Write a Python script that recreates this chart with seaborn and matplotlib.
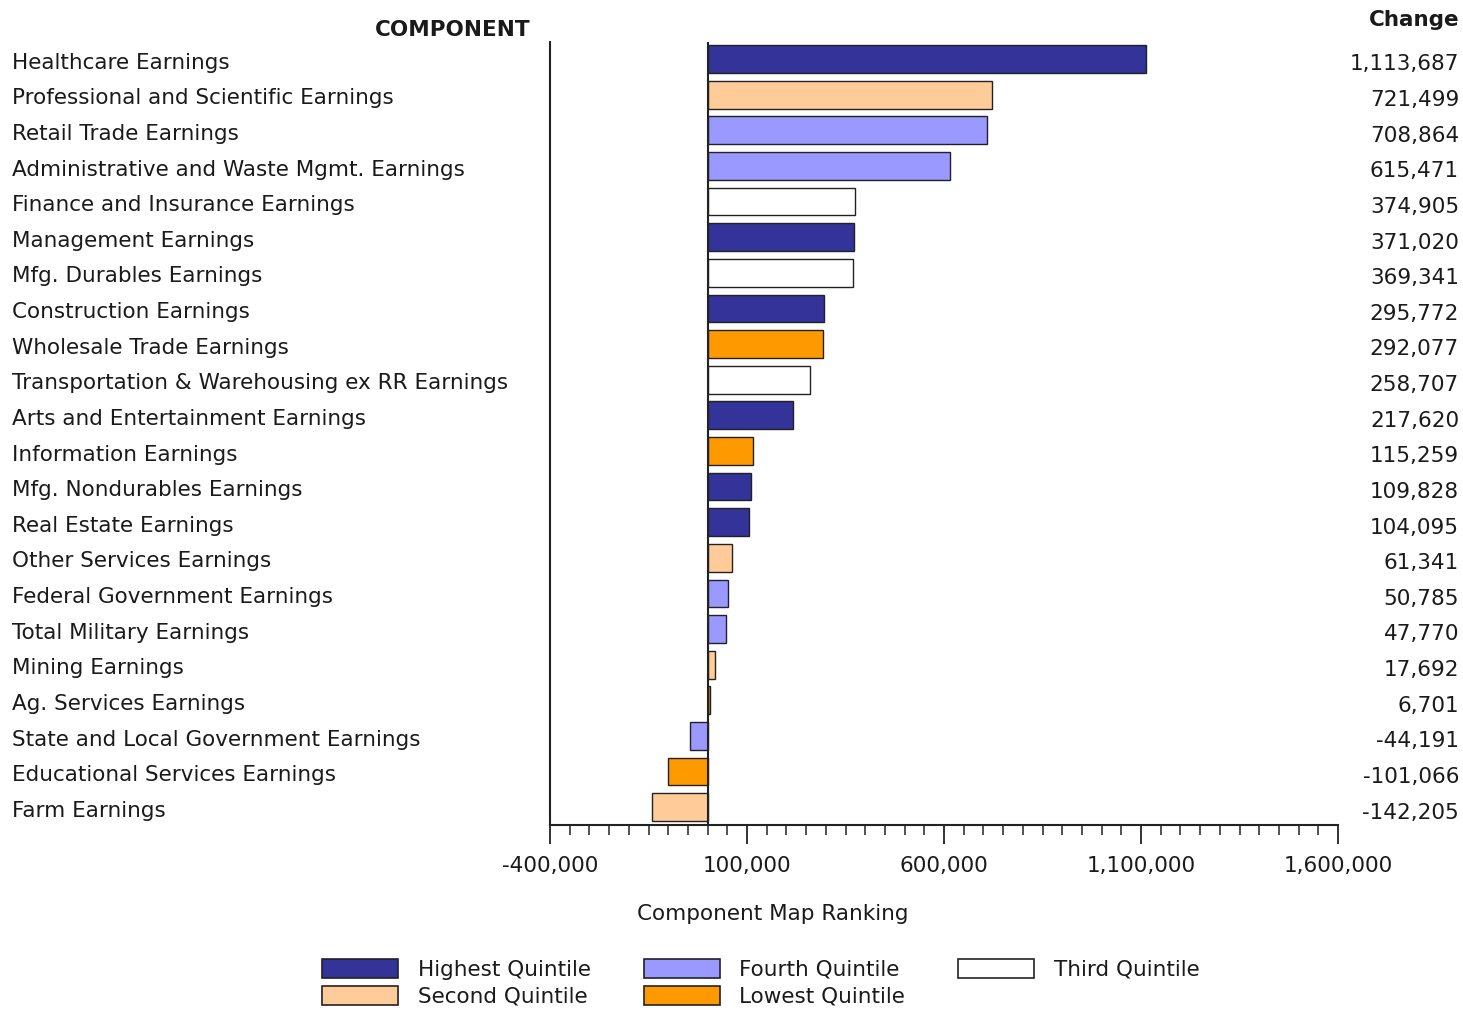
import matplotlib
matplotlib.use("Agg")
import matplotlib.pyplot as plt
import matplotlib.transforms as mtransforms
from matplotlib.patches import Patch
from matplotlib.ticker import MultipleLocator, FixedLocator, FuncFormatter
import seaborn as sns
import pandas as pd

components = [
    "Healthcare Earnings",
    "Professional and Scientific Earnings",
    "Retail Trade Earnings",
    "Administrative and Waste Mgmt. Earnings",
    "Finance and Insurance Earnings",
    "Management Earnings",
    "Mfg. Durables Earnings",
    "Construction Earnings",
    "Wholesale Trade Earnings",
    "Transportation & Warehousing ex RR Earnings",
    "Arts and Entertainment Earnings",
    "Information Earnings",
    "Mfg. Nondurables Earnings",
    "Real Estate Earnings",
    "Other Services Earnings",
    "Federal Government Earnings",
    "Total Military Earnings",
    "Mining Earnings",
    "Ag. Services Earnings",
    "State and Local Government Earnings",
    "Educational Services Earnings",
    "Farm Earnings",
]
changes = [1113687, 721499, 708864, 615471, 374905, 371020, 369341, 295772,
           292077, 258707, 217620, 115259, 109828, 104095, 61341, 50785,
           47770, 17692, 6701, -44191, -101066, -142205]
quintiles = ["Highest Quintile", "Second Quintile", "Fourth Quintile", "Fourth Quintile",
             "Third Quintile", "Highest Quintile", "Third Quintile", "Highest Quintile",
             "Lowest Quintile", "Third Quintile", "Highest Quintile", "Lowest Quintile",
             "Highest Quintile", "Highest Quintile", "Second Quintile", "Fourth Quintile",
             "Fourth Quintile", "Second Quintile", "Lowest Quintile", "Fourth Quintile",
             "Lowest Quintile", "Second Quintile"]
legend_order = ["Highest Quintile", "Second Quintile", "Fourth Quintile",
                "Lowest Quintile", "Third Quintile"]
palette = {
    "Highest Quintile": "#333399",
    "Fourth Quintile": "#9999FF",
    "Third Quintile": "#FFFFFF",
    "Second Quintile": "#FFCC99",
    "Lowest Quintile": "#FF9900",
}
x_ticks = [-400000, 100000, 600000, 1100000, 1600000]

df = pd.DataFrame({"Component": components, "Change": changes, "Quintile": quintiles})

sns.set_style("white")
plt.rcParams["font.family"] = ["DejaVu Sans"]
FS = 15.5
TXT = "#1a1a1a"

fig = plt.figure(figsize=(14.63, 10.10), dpi=100)
ax = fig.add_axes([550 / 1463, 1 - 825 / 1010, 788 / 1463, 783 / 1010])

sns.barplot(data=df, x="Change", y="Component", hue="Quintile", palette=palette,
            dodge=False, orient="h", width=0.78, edgecolor="#222222", linewidth=1.0,
            saturation=1, legend=False, ax=ax, order=components)

ax.set_xlim(x_ticks[0], x_ticks[-1])
ax.set_ylim(len(components) - 0.5, -0.48)
ax.axvline(0, color="#222222", lw=1.5, zorder=5)

for s in ["top", "right"]:
    ax.spines[s].set_visible(False)
for s in ["left", "bottom"]:
    ax.spines[s].set_color("#222222")
    ax.spines[s].set_linewidth(1.5)

ax.xaxis.set_major_locator(FixedLocator(x_ticks))
ax.xaxis.set_minor_locator(MultipleLocator(50000))
ax.xaxis.set_major_formatter(FuncFormatter(lambda v, p: f"{int(v):,}"))
ax.tick_params(axis="x", which="major", direction="out", length=14, width=1.3,
               color="#222222", labelsize=FS, labelcolor=TXT, pad=8.5, bottom=True)
ax.tick_params(axis="x", which="minor", direction="out", length=7, width=1.1,
               color="#222222", bottom=True)
ax.set_yticks([])
ax.set_ylabel("")
ax.set_xlabel("")

fig.text(773 / 1463, 1 - 914 / 1010, "Component Map Ranking", ha="center", va="center",
         fontsize=FS, color=TXT)

trans_left = mtransforms.blended_transform_factory(fig.transFigure, ax.transData)
for i, (name, val) in enumerate(zip(components, changes)):
    ax.text(12 / 1463, i + 0.1, name, transform=trans_left, ha="left", va="center",
            fontsize=FS, color=TXT, clip_on=False)
    ax.text(1459 / 1463, i + 0.15, f"{val:,}", transform=trans_left, ha="right",
            va="center", fontsize=FS, color=TXT, clip_on=False)

fig.text(453 / 1463, 1 - 30 / 1010, "COMPONENT", ha="center", va="center",
         fontsize=FS, fontweight="bold", color=TXT)
fig.text(1459 / 1463, 1 - 20 / 1010, "Change", ha="right", va="center",
         fontsize=FS, fontweight="bold", color=TXT)

handles = [Patch(facecolor=palette[q], edgecolor="#222222", linewidth=1.2, label=q)
           for q in legend_order]
fig.legend(handles=handles, ncol=3, loc="center left",
           bbox_to_anchor=(322 / 1463, 1 - 983 / 1010),
           frameon=False, fontsize=FS, handlelength=3.55, handleheight=0.93,
           columnspacing=2.45, labelspacing=0.3, handletextpad=0.9,
           borderpad=0, borderaxespad=0, labelcolor=TXT)

fig.savefig("out.png", dpi=100)
